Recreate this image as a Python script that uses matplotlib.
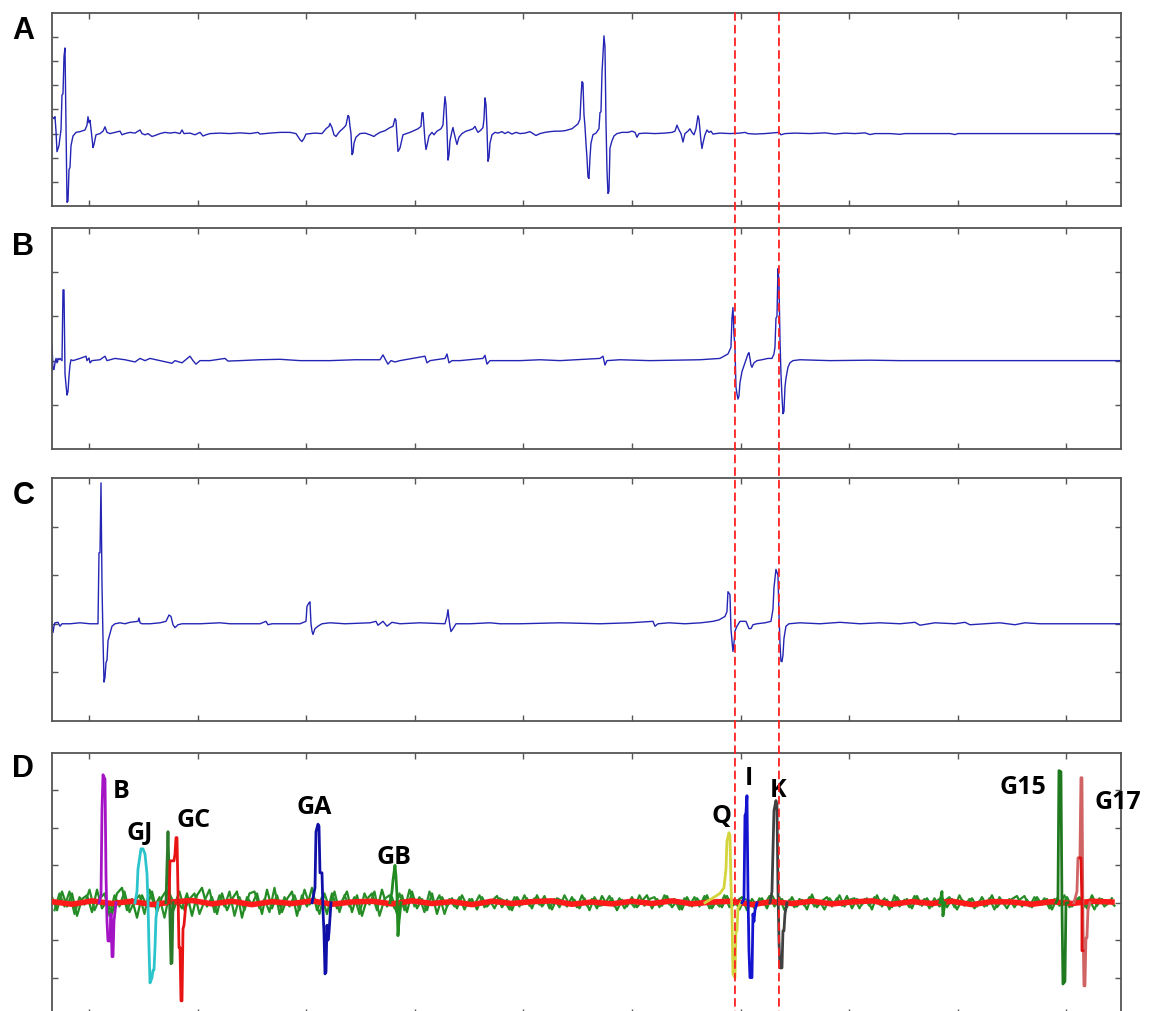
import numpy as np
import matplotlib.pyplot as plt
from matplotlib.patches import ConnectionPatch

# time axis is in samples; ticks every 108.6 samples, no labels
trace_a = [
    (52, 0.70), (54, 0.62), (55, 0.70), (56, 0.1), (57, -0.75), (59, -0.5), (60, -0.15),
    (61, 0.15), (62, 1.6), (63, 1.65), (64, 3.2), (65, 3.55), (66, 0.3), (67, -2.85),
    (68, -2.8), (69, -1.5), (70, -1.4), (71, -0.5), (73, -0.1), (76, 0.05), (80, 0.08),
    (85, 0.15), (87, 0.35), (88, 0.7), (89, 0.45), (90, 0.55), (91, 0.2), (93, -0.58),
    (94, -0.45), (96, -0.05), (100, 0.0), (103, 0.1), (105, 0.28), (107, 0.05), (110, 0.0),
    (115, 0.05), (120, 0.1), (122, -0.05), (125, 0.0), (130, 0.05), (135, 0.02), (140, 0.15),
    (142, 0.0), (145, -0.05), (148, 0.0), (152, -0.12), (155, -0.08), (160, 0.0), (165, 0.05),
    (170, 0.02), (175, 0.05), (180, 0.0), (182, 0.15), (184, 0.0), (190, 0.02), (195, -0.05),
    (200, 0.05), (203, -0.1), (206, -0.05), (210, 0.0), (220, 0.02), (230, 0.0), (240, 0.03),
    (250, 0.0), (258, 0.05), (260, -0.02), (270, 0.02), (280, 0.05), (290, 0.05), (296, 0.0),
    (300, -0.25), (302, -0.33), (304, -0.2), (306, -0.02), (315, 0.02), (322, 0.0), (326, 0.2),
    (329, 0.3), (330, 0.42), (332, 0.25), (334, -0.05), (336, -0.12), (338, 0.0), (340, 0.1),
    (344, 0.25), (346, 0.35), (348, 0.75), (349, 0.7), (350, 0.3), (351, 0.0), (352, -0.87),
    (353, -0.8), (354, -0.4), (356, -0.15), (360, 0.0), (365, 0.02), (370, -0.05), (374, -0.12),
    (376, -0.05), (380, 0.05), (385, 0.12), (390, 0.25), (393, 0.3), (395, 0.62), (396, 0.55),
    (398, -0.74), (400, -0.6), (403, -0.05), (410, 0.05), (418, 0.2), (421, 0.3), (422, 0.85),
    (423, 0.87), (424, 0.3), (425, -0.3), (426, -0.66), (427, -0.5), (429, -0.1), (432, 0.05),
    (434, -0.05), (437, 0.1), (441, 0.2), (443, 0.35), (444, 1.0), (445, 1.53), (446, 1.2),
    (447, 0.2), (448, -1.1), (449, -0.9), (450, -0.3), (452, 0.1), (453, 0.25), (454, 0.05),
    (456, -0.3), (457, -0.45), (459, -0.15), (462, 0.0), (466, 0.1), (470, 0.15), (473, 0.2),
    (475, 0.3), (476, 0.2), (478, 0.05), (481, 0.15), (483, 0.25), (484, 0.6), (485, 1.48),
    (486, 1.2), (487, 0.2), (488, -1.15), (489, -1.0), (490, -0.4), (492, -0.05), (495, 0.05),
    (498, 0.02), (502, 0.08), (505, 0.0), (508, 0.07), (512, -0.02), (516, 0.05), (520, 0.0),
    (525, 0.02), (530, 0.08), (533, 0.0), (536, -0.08), (540, 0.0), (545, 0.05), (550, 0.08),
    (555, 0.1), (560, 0.1), (565, 0.12), (572, 0.2), (578, 0.4), (580, 0.6), (581, 1.5),
    (582, 2.15), (583, 2.1), (584, 0.8), (585, 0.3), (586, -0.4), (587, -1.0), (588, -1.8),
    (589, -1.86), (590, -1.0), (591, -0.4), (593, -0.05), (596, 0.02), (599, 0.2), (600, 0.87),
    (601, 0.9), (602, 2.5), (604, 4.05), (605, 3.6), (606, 0.5), (607, -1.5), (608, -2.48),
    (609, -2.4), (610, -0.6), (612, -0.3), (614, -0.1), (617, 0.0), (622, 0.05), (628, 0.05),
    (632, 0.1), (635, 0.05), (637, -0.15), (639, 0.0), (645, 0.02), (655, 0.0), (665, 0.02),
    (672, 0.05), (675, 0.1), (677, 0.35), (679, 0.15), (681, 0.0), (683, -0.35), (685, 0.0),
    (688, 0.1), (690, 0.2), (692, 0.05), (694, -0.05), (696, 0.2), (698, 0.74), (699, 0.6),
    (701, -0.3), (702, -0.62), (703, -0.4), (705, -0.05), (707, 0.15), (709, 0.05), (711, 0.1),
    (713, -0.02), (716, 0.0), (720, 0.02), (730, 0.0), (740, 0.02), (745, 0.05), (748, 0.0),
    (755, -0.02), (765, 0.0), (779, 0.05), (781, -0.05), (785, 0.0), (795, 0.02), (810, 0.0),
    (825, 0.03), (835, -0.02), (845, 0.02), (855, 0.0), (865, 0.03), (870, -0.04), (875, 0.0),
    (890, 0.0), (900, -0.03), (905, 0.0), (950, 0.0), (955, -0.04), (958, 0.0), (1121, 0.0),
]

trace_b = [
    (52, 0.34), (53, -0.2), (54, -0.2), (55, -0.05), (56, 0.05), (57, -0.05), (58, 0.05),
    (59, 0.02), (60, 0.05), (62, 0.0), (63, 1.6), (64, 1.6), (65, -0.3), (66, -0.55),
    (67, -0.78), (68, -0.7), (69, -0.35), (70, -0.1), (71, 0.02), (73, 0.0), (80, 0.05),
    (86, 0.1), (87, 0.0), (89, 0.06), (90, -0.05), (92, 0.0), (100, 0.02), (105, 0.1),
    (107, 0.0), (115, 0.05), (125, 0.02), (135, -0.03), (140, 0.05), (145, 0.0), (150, 0.05),
    (160, 0.0), (172, -0.06), (175, 0.0), (182, -0.05), (190, 0.1), (193, 0.0), (196, -0.08),
    (200, 0.0), (210, 0.0), (225, 0.05), (228, -0.01), (240, 0.0), (260, 0.02), (280, 0.03),
    (300, 0.0), (330, 0.0), (355, 0.02), (380, 0.02), (383, 0.13), (386, 0.0), (388, -0.08),
    (391, 0.0), (395, -0.03), (400, 0.0), (425, 0.1), (427, -0.05), (430, 0.0), (445, 0.05),
    (447, 0.15), (449, -0.05), (452, 0.0), (460, 0.0), (483, 0.05), (485, 0.12), (487, -0.08),
    (490, 0.0), (520, 0.0), (540, 0.02), (560, 0.0), (600, 0.05), (603, 0.1), (605, -0.1),
    (607, 0.0), (620, 0.02), (650, 0.0), (700, 0.02), (720, 0.05), (728, 0.15), (731, 0.3),
    (732, 0.96), (733, 1.2), (734, 0.6), (735, 0.3), (736, -0.6), (737, -0.75), (738, -0.87),
    (739, -0.8), (740, -0.5), (742, -0.25), (745, -0.05), (748, 0.15), (749, 0.18), (750, 0.05),
    (751, -0.1), (752, -0.15), (754, -0.05), (757, 0.0), (762, 0.02), (768, 0.05), (772, 0.05),
    (774, 0.15), (775, 0.3), (776, 0.96), (777, 1.0), (778, 2.08), (779, 1.8), (780, 0.5),
    (781, -0.3), (782, -0.8), (783, -1.2), (784, -1.15), (785, -0.6), (786, -0.4), (788, -0.15),
    (790, -0.05), (793, 0.0), (800, 0.02), (830, 0.0), (870, 0.01), (900, 0.0), (1121, 0.0),
]

trace_c = [
    (52, 0.0), (53, -0.18), (54, -0.05), (55, 0.02), (58, 0.03), (60, -0.05), (62, 0.0),
    (70, 0.0), (80, 0.02), (90, 0.0), (98, 0.0), (99, 1.46), (100, 1.46), (101, 2.9),
    (102, 0.8), (103, -0.3), (104, -1.2), (105, -1.1), (106, -0.8), (107, -0.75), (108, -0.35),
    (110, -0.2), (112, -0.05), (115, 0.0), (120, 0.02), (125, 0.0), (130, 0.03), (138, 0.05),
    (139, 0.12), (140, 0.02), (142, 0.0), (150, 0.0), (160, 0.02), (166, 0.05), (169, 0.18),
    (171, 0.15), (173, -0.02), (175, -0.08), (178, -0.02), (182, 0.0), (200, 0.0), (220, 0.02),
    (230, 0.0), (260, 0.0), (266, 0.05), (268, -0.02), (272, 0.0), (300, 0.0), (306, 0.05),
    (307, 0.36), (309, 0.43), (310, 0.45), (311, 0.0), (312, -0.15), (313, -0.22), (315, -0.1),
    (318, -0.05), (322, 0.0), (330, 0.02), (345, 0.0), (370, 0.02), (376, 0.05), (378, -0.03),
    (383, 0.05), (387, -0.05), (392, 0.03), (400, 0.0), (420, 0.02), (445, 0.0), (447, 0.15),
    (448, 0.29), (449, 0.1), (450, -0.05), (451, -0.16), (453, -0.1), (456, 0.0), (470, 0.0),
    (490, 0.02), (500, 0.0), (520, 0.0), (560, 0.02), (600, 0.0), (630, 0.02), (653, 0.05),
    (655, -0.05), (658, 0.0), (669, 0.02), (685, 0.0), (701, 0.02), (713, 0.05), (719, 0.08),
    (725, 0.15), (727, 0.25), (728, 0.66), (730, 0.6), (731, -0.1), (732, -0.35), (733, -0.57),
    (734, -0.4), (735, -0.15), (737, -0.05), (740, 0.05), (746, 0.05), (749, -0.1), (751, -0.1),
    (753, -0.02), (757, 0.0), (765, 0.02), (771, 0.05), (773, 0.3), (774, 0.74), (776, 1.12),
    (778, 1.0), (779, 0.2), (780, -0.4), (781, -0.77), (782, -0.78), (783, -0.65), (784, -0.3),
    (786, -0.05), (789, 0.0), (800, 0.02), (820, 0.0), (840, 0.03), (860, 0.0), (880, 0.02),
    (900, 0.0), (915, 0.03), (920, -0.03), (935, 0.02), (955, 0.0), (965, 0.03), (970, -0.02),
    (985, 0.0), (1000, 0.02), (1015, -0.02), (1025, 0.02), (1040, 0.0), (1121, 0.0),
]

# panel D: background noise of two green channels (one value every 5 samples) and red baseline
green_noise = [
    0.15, -0.2, 0.3, -0.1, 0.25, -0.35, 0.1, 0.2, -0.25, 0.35,
    -0.15, 0.05, -0.3, 0.25, 0.4, -0.2, 0.1, -0.4, 0.2, -0.1,
    0.3, -0.25, 0.15, 0.35, -0.3, 0.05, -0.15, 0.25, -0.35, 0.2,
    0.4, -0.1, 0.15, -0.3, 0.25, -0.2, 0.1, 0.3, -0.4, 0.15,
    -0.05, 0.25, -0.3, 0.35, -0.15, 0.2, -0.25, 0.1, 0.3, -0.35,
    0.2, -0.1, 0.4, -0.2, 0.15, -0.3, 0.25, -0.15, 0.05, 0.3,
    -0.25, 0.2, -0.35, 0.1, 0.25, -0.2, 0.35, -0.1, 0.15, -0.3,
    0.2, -0.25, 0.3, -0.15, 0.1, -0.2, 0.25, -0.3, 0.15, -0.1,
    0.12, -0.15, 0.2, -0.08, 0.1, -0.18, 0.15, -0.1, 0.05, 0.18,
    -0.12, 0.08, -0.2, 0.15, -0.05, 0.12, -0.15, 0.2, -0.1, 0.08,
    -0.18, 0.12, 0.05, -0.1, 0.15, -0.12, 0.2, -0.08, 0.1, -0.15,
    0.18, -0.05, 0.12, -0.2, 0.08, -0.1, 0.15, -0.12, 0.05, 0.2,
    -0.15, 0.1, -0.08, 0.18, -0.12, 0.05, -0.18, 0.15, -0.1, 0.12,
    -0.05, 0.2, -0.15, 0.08, -0.12, 0.18, -0.1, 0.05, 0.15, -0.2,
    0.1, -0.08, 0.12, -0.15, 0.2, -0.05, 0.1, -0.12, 0.15, -0.1,
    0.08, -0.18, 0.22, -0.12, 0.05, 0.15, -0.1, 0.12, -0.08, 0.18,
    -0.15, 0.1, -0.05, 0.12, -0.18, 0.2, -0.1, 0.08, -0.12, 0.15,
    -0.05, 0.1, -0.15, 0.18, -0.08, 0.12, -0.1, 0.05, 0.15, -0.12,
    0.1, -0.18, 0.08, -0.05, 0.12, -0.1, 0.15, -0.08, 0.2, -0.12,
    0.05, -0.15, 0.1, 0.18, -0.1, 0.08, -0.12, 0.15, -0.05, 0.1,
    -0.18, 0.12, -0.08, 0.15, -0.1, 0.05, 0.12, -0.15, 0.2, -0.08,
    0.1, -0.05, 0.12,
]
green_noise_2 = [
    -0.2, 0.25, -0.1, 0.3, -0.3, 0.15, -0.05, 0.35, -0.2, 0.1,
    0.25, -0.35, 0.2, -0.1, 0.3, -0.25, 0.05, 0.2, -0.3, 0.35,
    -0.1, 0.15, -0.4, 0.25, -0.05, 0.3, -0.2, 0.1, 0.25, -0.3,
    0.05, 0.35, -0.25, 0.2, -0.1, 0.3, -0.35, 0.15, -0.2, 0.25,
    0.3, -0.15, 0.1, -0.25, 0.4, -0.3, 0.15, -0.1, 0.2, -0.2,
    0.35, -0.05, 0.1, -0.3, 0.25, -0.15, 0.3, -0.25, 0.2, -0.1,
    0.15, -0.3, 0.25, -0.05, 0.3, -0.35, 0.1, 0.2, -0.15, 0.25,
    -0.2, 0.35, -0.1, 0.15, -0.25, 0.3, -0.05, 0.2, -0.3, 0.1,
    -0.1, 0.15, -0.18, 0.1, -0.05, 0.2, -0.12, 0.08, -0.15, 0.12,
    0.05, -0.18, 0.15, -0.1, 0.2, -0.08, 0.12, -0.05, 0.18, -0.15,
    0.1, -0.12, 0.2, -0.05, 0.08, -0.15, 0.12, -0.2, 0.15, -0.08,
    -0.05, 0.18, -0.1, 0.12, -0.15, 0.05, -0.12, 0.2, -0.08, 0.1,
    0.15, -0.12, 0.2, -0.05, 0.1, -0.18, 0.12, -0.08, 0.15, -0.1,
    0.18, -0.15, 0.05, -0.1, 0.2, -0.12, 0.08, -0.18, 0.1, 0.05,
    -0.15, 0.12, -0.05, 0.18, -0.1, 0.15, -0.2, 0.08, -0.12, 0.1,
    -0.08, 0.15, -0.1, 0.05, -0.18, 0.12, -0.05, 0.2, -0.1, 0.08,
    0.12, -0.15, 0.1, -0.08, 0.15, -0.05, 0.12, -0.18, 0.2, -0.1,
    0.08, -0.12, 0.18, -0.05, 0.1, -0.15, 0.12, -0.1, 0.05, 0.15,
    -0.12, 0.2, -0.08, 0.1, -0.15, 0.05, -0.1, 0.12, -0.18, 0.15,
    -0.05, 0.1, -0.12, 0.08, 0.18, -0.1, 0.15, -0.05, 0.12, -0.15,
    0.1, -0.08, 0.2, -0.12, 0.05, 0.15, -0.1, 0.08, -0.18, 0.12,
    -0.1, 0.05, -0.08,
]
red_base = [
    0.03, -0.04, 0.05, -0.02, 0.04, -0.05, 0.02, 0.06, -0.03, 0.04,
    -0.05, 0.03, -0.02, 0.05, -0.04, 0.02, 0.04, -0.03, 0.05, -0.02,
    0.03, -0.05, 0.04, -0.02, 0.03, 0.05, -0.04, 0.02, -0.03, 0.04,
    -0.02, 0.05, -0.03, 0.02, 0.04, -0.05, 0.03, -0.02, 0.04, -0.03,
    0.02, 0.05, -0.04, 0.03, -0.02, 0.04, -0.05, 0.03, 0.02, -0.04,
    0.03, -0.02, 0.04, 0.02,
]

spike_b = [(99, 0), (101, 0.2), (102, 2.5), (103, 3.42), (105, 3.3), (106, 0.72), (107, -0.5),
           (108, -1.02), (110, -1.02), (111, -0.3), (112, -1.44), (113, -1.44), (114, -0.48), (116, 0)]
spike_gj = [(135, 0), (137, 0.3), (138, 0.9), (141, 1.44), (143, 1.44), (145, 1.3), (147, 0.77),
            (148, 0.0), (149, -1.2), (150, -2.14), (152, -2.0), (153, -1.8), (154, -1.8),
            (155, -1.2), (156, -0.4), (158, 0)]
spike_gc_green = [(166, 0), (167, 1.0), (168, 1.9), (169, 0.8), (171, -1.63), (172, -1.6), (173, 0)]
spike_gc_red = [(169, 0), (170, 1.12), (174, 1.12), (175, 1.3), (176, 1.74), (177, 1.74), (178, 0.3),
                (179, -1.2), (180, -1.2), (181, -2.62), (182, -2.62), (183, -0.7), (184, -0.6), (186, 0)]
spike_ga = [(312, 0), (315, 0.4), (316, 1.9), (318, 2.1), (319, 2.05), (320, 0.8), (322, 0.8),
            (323, -0.2), (324, -0.8), (325, -1.9), (326, -1.85), (327, -0.6), (328, -1.0),
            (329, -0.8), (331, 0)]
spike_gb = [(390, 0), (392, 0.3), (393, 0.6), (395, 1.0), (396, 0.7), (397, 0.2), (398, -0.88),
            (399, -0.5), (401, 0)]
spike_small = [(940, 0), (942, 0.3), (943, -0.35), (945, 0)]
spike_q = [(705, 0), (713, 0.13), (720, 0.25), (724, 0.4), (726, 0.9), (727, 1.65), (729, 1.87),
           (730, 1.8), (731, 0.5), (732, -0.3), (733, -1.9), (735, -2.0), (736, -0.75),
           (737, -0.75), (738, -0.15), (741, 0)]
spike_i = [(742, 0), (744, 0.1), (745, 2.33), (746, 2.4), (747, 2.86), (748, 0.3), (749, -1.28),
           (750, -2.0), (752, -2.0), (753, -0.3), (754, -0.5), (755, -0.2), (757, 0)]
spike_k = [(770, 0), (772, 0.3), (774, 2.46), (776, 2.73), (777, 2.6), (778, 0.4), (779, -1.0),
           (780, -1.74), (782, -1.74), (783, -0.75), (784, -0.75), (785, -0.3), (787, 0)]
spike_g15 = [(1056, 0), (1058, 0.1), (1059, 3.53), (1061, 3.5), (1062, 0.0), (1063, -2.17),
             (1065, -2.1), (1066, 0.0), (1068, 0)]
spike_g17 = [(1074, 0), (1077, 0.3), (1078, 1.2), (1080, 1.2), (1081, 3.34), (1082, 3.34),
             (1083, -0.5), (1084, -2.22), (1085, -2.22), (1086, -0.94), (1087, -0.94),
             (1088, -0.2), (1090, 0)]
spike_g17_core = [(1080, 1.2), (1081, 1.2), (1082, 0.0), (1082, -1.28), (1083, -1.28)]

unit_labels = ['B', 'GJ', 'GC', 'GA', 'GB', 'Q', 'I', 'K', 'G15', 'G17']
label_t = [113, 127, 177, 297, 377, 712, 745, 770, 1000, 1095]
label_v = [2.83, 1.71, 2.06, 2.41, 1.07, 2.16, 3.18, 2.86, 2.94, 2.54]

marker_times = [735, 779]

xlim = (52, 1121)
xticks = 89 + 108.6 * np.arange(10)

fig = plt.figure(figsize=(11.53, 10.12), dpi=100)

panel_pos = {
    'A': [0.0451, 0.7955, 0.9271, 0.1907],
    'B': [0.0451, 0.5553, 0.9271, 0.2184],
    'C': [0.0451, 0.2866, 0.9271, 0.2401],
    'D': [0.0451, -0.0040, 0.9271, 0.2589],
}
panel_ylim = {'A': (-3, 5), 'B': (-2, 3), 'C': (-2, 3), 'D': (-3, 4)}
panel_letter_xy = {'A': (0.0104, 0.9615), 'B': (0.0104, 0.748), 'C': (0.0113, 0.502), 'D': (0.0104, 0.232)}

axes = {}
for name, pos in panel_pos.items():
    ax = fig.add_axes(pos)
    ax.set_xlim(*xlim)
    ax.set_ylim(*panel_ylim[name])
    ax.set_xticks(xticks)
    lo, hi = panel_ylim[name]
    ax.set_yticks(np.arange(lo + 1, hi))
    ax.set_xticklabels([])
    ax.set_yticklabels([])
    ax.tick_params(direction='in', length=4, width=1.0, color='#555555',
                   top=True, right=True)
    for s in ax.spines.values():
        s.set_color('#555555')
        s.set_linewidth(1.3)
    axes[name] = ax
    fig.text(*panel_letter_xy[name], name, fontsize=22, fontweight='bold',
             family=['Liberation Sans', 'DejaVu Sans'], ha='left', va='baseline')

trace_color = '#2525b5'
for name, tr in [('A', trace_a), ('B', trace_b), ('C', trace_c)]:
    t, v = np.array(tr).T
    axes[name].plot(t, v, color=trace_color, lw=1.0)

axd = axes['D']
tg = 52 + 5 * np.arange(len(green_noise))
axd.plot(tg, green_noise, color='#218a21', lw=1.6, zorder=2)
axd.plot(tg + 2.5, green_noise_2, color='#2a8f2a', lw=1.6, zorder=2)
tr_ = 52 + 20 * np.arange(len(red_base))
axd.plot(tr_, red_base, color='#ff1a1a', lw=4.0, zorder=3)

spikes = [
    (spike_b, '#a414c4'), (spike_gj, '#2cc4cc'), (spike_gc_green, '#2a7a2a'),
    (spike_gc_red, '#e81414'), (spike_ga, '#1010a8'), (spike_gb, '#218a21'),
    (spike_small, '#218a21'), (spike_q, '#d4d43c'), (spike_i, '#1414d0'),
    (spike_k, '#404040'), (spike_g15, '#1f7a1f'), (spike_g17, '#d06464'),
    (spike_g17_core, '#e01010'),
]
for pts, col in spikes:
    t, v = np.array(pts).T
    axd.plot(t, v, color=col, lw=2.0, zorder=4)

for lab, t, v in zip(unit_labels, label_t, label_v):
    axd.text(t, v, lab, fontsize=18, fontweight='bold', family=['Open Sans', 'DejaVu Sans'],
             ha='left', va='baseline', zorder=6)

# red dashed guides running through all four panels
for t in marker_times:
    con = ConnectionPatch(xyA=(t, panel_ylim['A'][1]), coordsA='data', axesA=axes['A'],
                          xyB=(t, panel_ylim['D'][0]), coordsB='data', axesB=axd,
                          color='#ff2020', lw=1.3, linestyle=(0, (4, 3)), zorder=10)
    fig.add_artist(con)

plt.savefig('out.png', dpi=100)
